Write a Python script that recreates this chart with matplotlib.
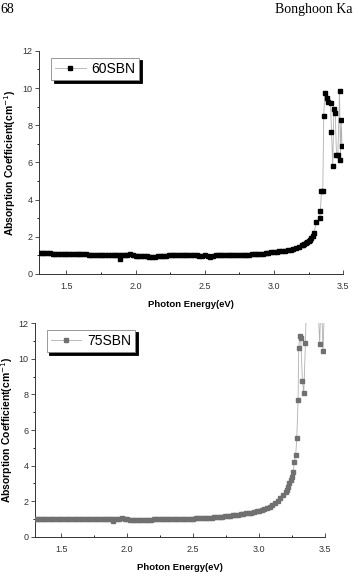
import matplotlib.pyplot as plt
from matplotlib.ticker import MultipleLocator

# 60SBN: photon energy (eV) and absorption coefficient (cm^-1)
e60 = [1.30, 1.32, 1.34, 1.36, 1.38, 1.40, 1.42, 1.44, 1.46, 1.48,
       1.50, 1.52, 1.54, 1.56, 1.58, 1.60, 1.62, 1.64, 1.66, 1.68,
       1.70, 1.72, 1.74, 1.76, 1.78, 1.80, 1.82, 1.84, 1.86, 1.88,
       1.89, 1.90, 1.92, 1.94, 1.96, 1.98, 2.00, 2.02, 2.04, 2.06,
       2.08, 2.10, 2.12, 2.14, 2.16, 2.18, 2.20, 2.22, 2.24, 2.26,
       2.28, 2.30, 2.32, 2.34, 2.36, 2.38, 2.40, 2.42, 2.44, 2.46,
       2.48, 2.50, 2.52, 2.54, 2.56, 2.58, 2.60, 2.62, 2.64, 2.66,
       2.68, 2.70, 2.72, 2.74, 2.76, 2.78, 2.80, 2.82, 2.84, 2.86,
       2.88, 2.90, 2.92, 2.94, 2.96, 2.98, 3.00, 3.02, 3.04, 3.06,
       3.08, 3.10, 3.12, 3.14, 3.16, 3.18, 3.20, 3.21, 3.22, 3.23,
       3.24, 3.25, 3.26, 3.27, 3.28, 3.288, 3.307, 3.33, 3.336, 3.343,
       3.353, 3.36, 3.367, 3.38, 3.392, 3.409, 3.416, 3.425, 3.433, 3.443,
       3.452, 3.462, 3.474, 3.481, 3.486, 3.492]
a60 = [1.13, 1.12, 1.12, 1.11, 1.11, 1.10, 1.10, 1.09, 1.09, 1.08,
       1.08, 1.07, 1.07, 1.06, 1.06, 1.05, 1.05, 1.05, 1.04, 1.04,
       1.04, 1.04, 1.03, 1.03, 1.03, 1.03, 1.02, 1.02, 1.02, 1.01,
       0.82, 1.00, 1.00, 1.03, 1.05, 1.02, 0.99, 0.97, 0.96, 0.95,
       0.94, 0.93, 0.93, 0.92, 0.94, 0.97, 0.98, 0.99, 1.00, 1.00,
       1.00, 1.00, 1.00, 1.00, 1.00, 1.00, 1.00, 1.00, 1.00, 0.99,
       0.99, 1.00, 0.98, 0.93, 0.99, 1.00, 1.00, 1.00, 1.00, 1.00,
       1.00, 1.00, 1.01, 1.01, 1.01, 1.02, 1.02, 1.03, 1.05, 1.06,
       1.07, 1.09, 1.10, 1.12, 1.14, 1.16, 1.18, 1.19, 1.21, 1.23,
       1.25, 1.27, 1.30, 1.34, 1.39, 1.45, 1.54, 1.58, 1.62, 1.67,
       1.72, 1.78, 1.85, 1.94, 2.06, 2.20, 2.78, 3.00, 3.37, 4.48,
       4.48, 8.47, 9.73, 9.46, 9.27, 9.19, 7.66, 5.79, 8.86, 8.68,
       6.42, 6.42, 9.85, 6.11, 8.29, 6.90]

# 75SBN
e75 = [1.30, 1.32, 1.34, 1.36, 1.38, 1.40, 1.42, 1.44, 1.46, 1.48,
       1.50, 1.52, 1.54, 1.56, 1.58, 1.60, 1.62, 1.64, 1.66, 1.68,
       1.70, 1.72, 1.74, 1.76, 1.78, 1.80, 1.82, 1.84, 1.86, 1.88,
       1.89, 1.90, 1.92, 1.94, 1.96, 1.98, 2.00, 2.02, 2.04, 2.06,
       2.08, 2.10, 2.12, 2.14, 2.16, 2.18, 2.20, 2.22, 2.24, 2.26,
       2.28, 2.30, 2.32, 2.34, 2.36, 2.38, 2.40, 2.42, 2.44, 2.46,
       2.48, 2.50, 2.52, 2.54, 2.56, 2.58, 2.60, 2.62, 2.64, 2.66,
       2.68, 2.70, 2.72, 2.74, 2.76, 2.78, 2.80, 2.82, 2.84, 2.86,
       2.88, 2.90, 2.92, 2.94, 2.96, 2.98, 3.00, 3.02, 3.04, 3.06,
       3.08, 3.10, 3.12, 3.14, 3.16, 3.18, 3.20, 3.209, 3.22, 3.229,
       3.24, 3.252, 3.257, 3.267, 3.277, 3.285, 3.295, 3.30, 3.307, 3.315,
       3.328, 3.338, 3.351, 3.36, 3.38, 3.40, 3.42, 3.44, 3.459, 3.47,
       3.484, 3.495]
a75 = [1.03, 1.03, 1.03, 1.03, 1.03, 1.03, 1.02, 1.02, 1.02, 1.02,
       1.02, 1.02, 1.02, 1.02, 1.02, 1.02, 1.01, 1.01, 1.01, 1.01,
       1.01, 1.01, 1.01, 1.01, 1.01, 1.01, 1.01, 1.01, 1.00, 1.00,
       0.88, 1.00, 1.00, 1.03, 1.04, 1.01, 0.98, 0.97, 0.97, 0.96,
       0.95, 0.94, 0.93, 0.93, 0.95, 0.97, 0.98, 0.99, 0.99, 1.00,
       1.00, 1.00, 1.00, 1.01, 1.01, 1.01, 1.01, 1.02, 1.02, 1.02,
       1.03, 1.03, 1.04, 1.05, 1.06, 1.06, 1.07, 1.08, 1.09, 1.10,
       1.11, 1.12, 1.14, 1.15, 1.17, 1.19, 1.21, 1.23, 1.25, 1.27,
       1.30, 1.32, 1.34, 1.37, 1.40, 1.43, 1.46, 1.51, 1.56, 1.62,
       1.70, 1.80, 1.90, 2.02, 2.17, 2.35, 2.50, 2.62, 2.82, 3.00,
       3.20, 3.37, 3.62, 4.22, 4.60, 5.53, 7.69, 10.60, 11.26, 11.16,
       8.75, 8.08, 10.88, 14.0, 16.0, 17.0, 16.0, 14.0, 10.82, 14.0,
       10.43, 13.0]

ticks_x = [1.5, 2.0, 2.5, 3.0, 3.5]
ticks_y = [0, 2, 4, 6, 8, 10, 12]

plt.rcParams['font.family'] = ['Liberation Sans', 'DejaVu Sans']


def panel(ax, e, a, color, label):
    ax.plot(e, a, color='#b0b0b0', lw=0.6, marker='s', ms=3.4,
            mfc=color, mec=color, label=label, zorder=3)
    ax.set_xlim(1.3, 3.5)
    ax.set_ylim(0, 12)
    ax.set_xticks(ticks_x)
    ax.set_yticks(ticks_y)
    ax.xaxis.set_minor_locator(MultipleLocator(0.25))
    ax.yaxis.set_minor_locator(MultipleLocator(1))
    ax.tick_params(axis='x', direction='in', length=3, width=0.6,
                   labelsize=6.5, pad=6, colors='#333333')
    ax.tick_params(axis='x', which='minor', direction='in', length=1.5, width=0.6)
    ax.tick_params(axis='y', direction='out', length=3, width=0.6,
                   labelsize=6.5, pad=1.5, colors='#333333')
    ax.tick_params(axis='y', which='minor', direction='out', length=1.5, width=0.6)
    for s in ('top', 'right'):
        ax.spines[s].set_visible(False)
    for s in ('left', 'bottom'):
        ax.spines[s].set_linewidth(0.7)
        ax.spines[s].set_color('#333333')
    ax.set_xlabel('Photon Energy(eV)', fontsize=6.8, fontweight='bold', labelpad=6)
    ax.set_ylabel('Absorption Coefficient(cm$^{-1}$)', fontsize=7.5,
                  fontweight='bold', labelpad=3)
    leg = ax.legend(loc='upper left', bbox_to_anchor=(0.04, 0.97),
                    fontsize=10, frameon=True, fancybox=False,
                    shadow={'color': 'black', 'alpha': 1.0},
                    handlelength=2.2, handletextpad=0.4, borderpad=0.3,
                    borderaxespad=0)
    leg.get_frame().set_edgecolor('#888888')
    leg.get_frame().set_linewidth(0.6)


fig = plt.figure(figsize=(3.53, 5.78), dpi=100)
ax1 = fig.add_axes([0.110, 0.526, 0.862, 0.386])
ax2 = fig.add_axes([0.099, 0.071, 0.822, 0.370])

panel(ax1, e60, a60, 'black', '60SBN')
panel(ax2, e75, a75, '#707070', '75SBN')

fig.text(0.0, 0.984, '68', family='Liberation Serif', fontsize=10,
         va='center', ha='left')
fig.text(0.999, 0.984, 'Bonghoon Ka', family='Liberation Serif',
         fontsize=10, va='center', ha='right')

fig.savefig('out.png', dpi=100)
